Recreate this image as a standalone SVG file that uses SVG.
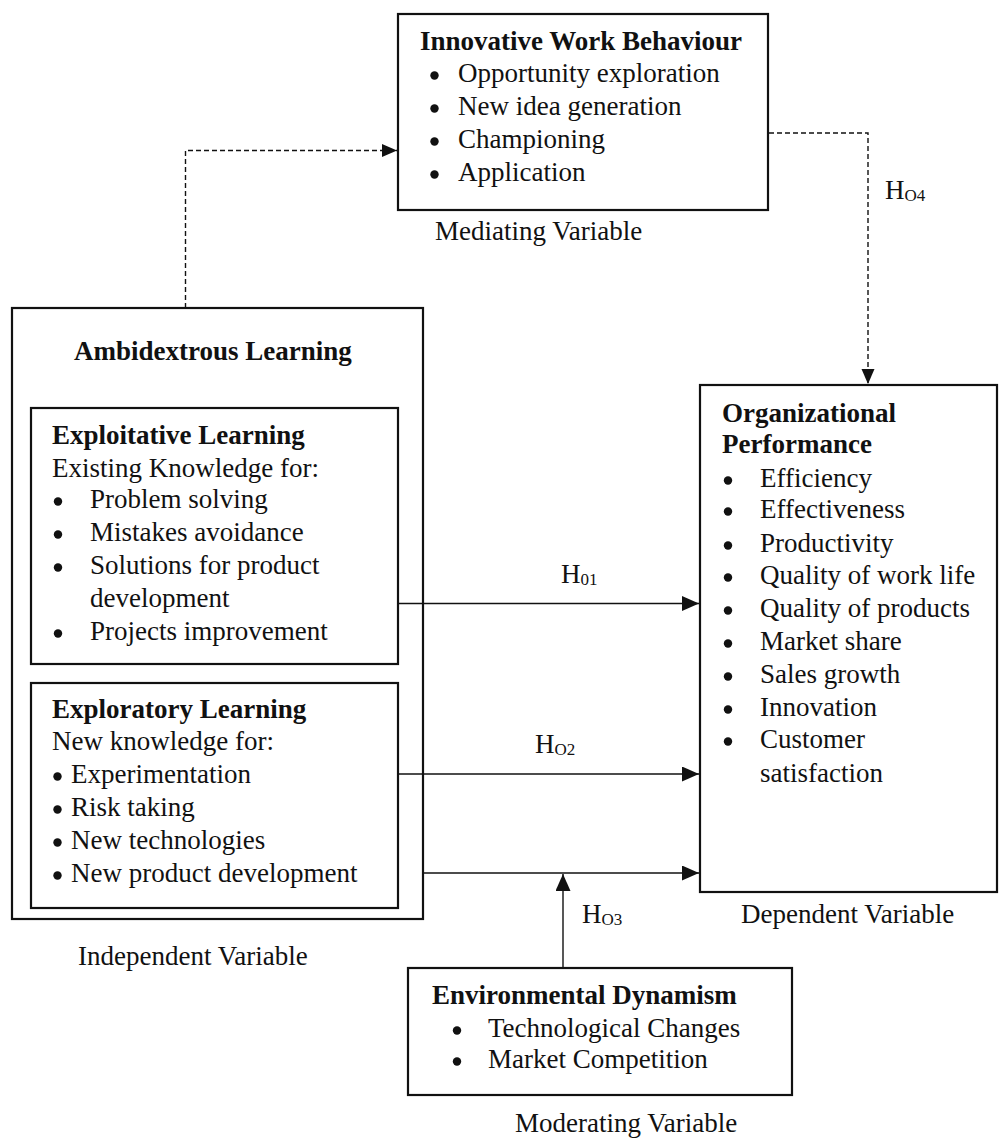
<svg xmlns="http://www.w3.org/2000/svg" width="1000" height="1139" viewBox="0 0 1000 1139">
<style>
text{font-family:"Liberation Serif","Times New Roman",serif;font-size:27px;fill:#111;}
.b{font-weight:bold;}
.sub{font-size:17px;}
.box{fill:none;stroke:#111;stroke-width:2.2;}
.ln{fill:none;stroke:#111;stroke-width:1.4;}
.dash{fill:none;stroke:#111;stroke-width:1.4;stroke-dasharray:5,3;}
.dot{fill:#111;}
</style>
<defs>
<marker id="ah" markerUnits="userSpaceOnUse" markerWidth="18" markerHeight="16" refX="17" refY="7.5" orient="auto">
<path d="M0,0 L17,7.5 L0,15 z" fill="#111"/>
</marker>
<marker id="ahd" markerUnits="userSpaceOnUse" markerWidth="16" markerHeight="14" refX="15" refY="6.5" orient="auto">
<path d="M0,0 L15,6.5 L0,13 z" fill="#111"/>
</marker>
</defs>
<rect width="1000" height="1139" fill="#fff"/>

<g id="connectors">
<path class="dash" d="M185.5,308 V150.5 H397" marker-end="url(#ahd)"/>
<path class="dash" d="M769,133 H868 V384" marker-end="url(#ahd)"/>
<path class="ln" d="M398,603.5 H699" marker-end="url(#ah)"/>
<path class="ln" d="M398,774 H699" marker-end="url(#ah)"/>
<path class="ln" d="M423,873 H699" marker-end="url(#ah)"/>
<path class="ln" d="M563,968 V874" marker-end="url(#ah)"/>
<text x="561" y="583">H<tspan class="sub" dy="2">01</tspan></text>
<text x="535" y="753">H<tspan class="sub" dy="2">O2</tspan></text>
<text x="582" y="923">H<tspan class="sub" dy="2">O3</tspan></text>
<text x="885" y="199">H<tspan class="sub" dy="2">O4</tspan></text>
</g>

<g id="innovative-work-behaviour">
<rect class="box" x="398" y="14" width="370" height="196"/>
<text class="b" x="420" y="50">Innovative Work Behaviour</text>
<circle class="dot" cx="434.5" cy="75.5" r="4.2"/><text x="458" y="82">Opportunity exploration</text>
<circle class="dot" cx="434.5" cy="108.5" r="4.2"/><text x="458" y="115">New idea generation</text>
<circle class="dot" cx="434.5" cy="141.5" r="4.2"/><text x="458" y="148">Championing</text>
<circle class="dot" cx="434.5" cy="174.5" r="4.2"/><text x="458" y="181">Application</text>
<text x="435" y="240">Mediating Variable</text>
</g>

<g id="ambidextrous-learning">
<rect class="box" x="12" y="308" width="411" height="611"/>
<text class="b" x="74" y="360">Ambidextrous Learning</text>
<text x="78" y="965">Independent Variable</text>
</g>

<g id="exploitative-learning">
<rect class="box" x="31" y="408" width="367" height="256"/>
<text class="b" x="52" y="444">Exploitative Learning</text>
<text x="52" y="477">Existing Knowledge for:</text>
<circle class="dot" cx="58" cy="501.5" r="4.2"/><text x="90" y="508">Problem solving</text>
<circle class="dot" cx="58" cy="534.5" r="4.2"/><text x="90" y="541">Mistakes avoidance</text>
<circle class="dot" cx="58" cy="567.5" r="4.2"/><text x="90" y="574">Solutions for product</text>
<text x="90" y="607">development</text>
<circle class="dot" cx="58" cy="633.5" r="4.2"/><text x="90" y="640">Projects improvement</text>
</g>

<g id="exploratory-learning">
<rect class="box" x="31" y="683" width="367" height="225"/>
<text class="b" x="52" y="718">Exploratory Learning</text>
<text x="52" y="750">New knowledge for:</text>
<circle class="dot" cx="57.5" cy="776.5" r="4.2"/><text x="71" y="783">Experimentation</text>
<circle class="dot" cx="57.5" cy="809.5" r="4.2"/><text x="71" y="816">Risk taking</text>
<circle class="dot" cx="57.5" cy="842.5" r="4.2"/><text x="71" y="849">New technologies</text>
<circle class="dot" cx="57.5" cy="875.5" r="4.2"/><text x="71" y="882">New product development</text>
</g>

<g id="organizational-performance">
<rect class="box" x="700" y="385" width="297" height="507"/>
<text class="b" x="722" y="422">Organizational</text>
<text class="b" x="722" y="453">Performance</text>
<circle class="dot" cx="728" cy="480.5" r="4.2"/><text x="760" y="487">Efficiency</text>
<circle class="dot" cx="728" cy="511.5" r="4.2"/><text x="760" y="518">Effectiveness</text>
<circle class="dot" cx="728" cy="545.5" r="4.2"/><text x="760" y="552">Productivity</text>
<circle class="dot" cx="728" cy="577.5" r="4.2"/><text x="760" y="584">Quality of work life</text>
<circle class="dot" cx="728" cy="610.5" r="4.2"/><text x="760" y="617">Quality of products</text>
<circle class="dot" cx="728" cy="643.5" r="4.2"/><text x="760" y="650">Market share</text>
<circle class="dot" cx="728" cy="676.5" r="4.2"/><text x="760" y="683">Sales growth</text>
<circle class="dot" cx="728" cy="709.5" r="4.2"/><text x="760" y="716">Innovation</text>
<circle class="dot" cx="728" cy="741.5" r="4.2"/><text x="760" y="748">Customer</text>
<text x="760" y="782">satisfaction</text>
<text x="741" y="923">Dependent Variable</text>
</g>

<g id="environmental-dynamism">
<rect class="box" x="408" y="968" width="384" height="127"/>
<text class="b" x="432" y="1004">Environmental Dynamism</text>
<circle class="dot" cx="457" cy="1030.5" r="4.2"/><text x="488" y="1037">Technological Changes</text>
<circle class="dot" cx="457" cy="1061.5" r="4.2"/><text x="488" y="1068">Market Competition</text>
<text x="515" y="1132">Moderating Variable</text>
</g>
</svg>
